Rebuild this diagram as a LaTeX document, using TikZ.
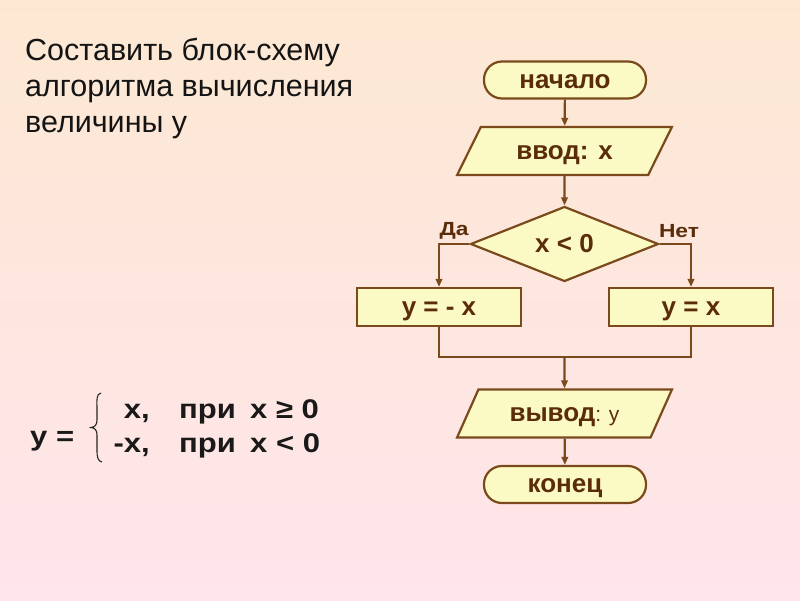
\documentclass[tikz,border=0pt]{standalone}
\usepackage{fontspec}
\usepackage{graphicx}
\setmainfont{Liberation Sans}
\usetikzlibrary{shapes.geometric,arrows.meta}
\definecolor{bgtop}{HTML}{FCE8D2}
\definecolor{bgbot}{HTML}{FFE5EC}
\definecolor{boxfill}{HTML}{FCFAC4}
\definecolor{edge}{HTML}{7A4A1C}
\definecolor{txt}{HTML}{5A2C0A}
\newcommand{\wide}[2]{\scalebox{#1}[1]{#2}}
\tikzset{
  fc/.style={draw=edge, line width=2.2pt, fill=boxfill, text=txt, font=\fontsize{26}{30}\selectfont\bfseries, inner sep=0pt, text height=16pt, text depth=0pt},
  term/.style={fc, rectangle, rounded corners=18pt, minimum width=162pt, minimum height=37pt},
  io/.style={fc, trapezium, trapezium stretches=true, trapezium left angle=49.5, trapezium right angle=130.5, minimum width=215pt, minimum height=48pt},
  proc/.style={fc, rectangle, minimum width=164pt, minimum height=38pt},
  dec/.style={fc, diamond, minimum width=188pt, minimum height=75pt},
  conn/.style={draw=edge, line width=2.2pt},
  arr/.style={conn, -{Triangle[length=8pt,width=6.5pt]}},
  lbl/.style={text=txt, font=\fontsize{19}{22}\selectfont\bfseries, inner sep=0pt},
  fml/.style={text=black!90, font=\fontsize{27}{30}\selectfont\bfseries, inner sep=0pt}
}
\begin{document}
\begin{tikzpicture}[x=1pt,y=-1pt]
\shade[top color=bgtop, bottom color=bgbot] (0,0) rectangle (800,600);
\useasboundingbox (0,0) rectangle (800,600);
% title
\node[anchor=base west, align=left, inner sep=0pt, text=black!92,
      font=\fontsize{30.5}{35.6}\selectfont] (title) at (25,132)
  {Составить блок-схему\\алгоритма вычисления\\величины y};
% flowchart
\node[term] (start) at (565,80) {начало};
\node[io] (in) at (564.5,151) {ввод: x};
\node[dec] (cond) at (564.5,244) {x < 0};
\node[proc] (left) at (439,307) {y = - x};
\node[proc] (right) at (691,307) {y = x};
\coordinate (join) at (564.5,357);
\node[io] (out) at (564.5,413.5) {вывод\textmd{\fontsize{21}{24}\selectfont: y}};
\node[term] (stop) at (565,484.5) {конец};
\node[lbl] (yes) at (454,231) {\wide{1.2}{Да}};
\node[lbl] (no) at (679,231) {\wide{1.2}{Нет}};
\draw[arr] (start) -- (in);
\draw[arr] (in) -- (cond);
\draw[arr] (cond.west) -| (left.north);
\draw[arr] (cond.east) -| (right.north);
\draw[conn] (left.south) |- (join) -| (right.south);
\draw[arr] (join) -- (out);
\draw[arr] (out) -- (stop);
% formula
\node[fml, anchor=base west] (yeq) at (30,445) {\wide{1.15}{y =}};
\node[fml, anchor=base east] (c1) at (150,418) {\wide{1.15}{x,}};
\node[fml, anchor=base east] (c2) at (150,452) {\wide{1.15}{-x,}};
\node[fml, anchor=base west] (p1) at (179,418) {\wide{1.15}{при}};
\node[fml, anchor=base west] (p2) at (179,452) {\wide{1.15}{при}};
\node[fml, anchor=base west] (r1) at (250,418) {\wide{1.15}{x ≥ 0}};
\node[fml, anchor=base west] (r2) at (250,452) {\wide{1.15}{x < 0}};
\draw[black!85, line width=1.1pt] (101,393) .. controls (96,394) and (97,400) .. (97,410)
  -- (97,420) .. controls (97,425) and (95,427) .. (91,427.5)
  .. controls (95,428) and (97,430) .. (97,435) -- (97,450)
  .. controls (97,458) and (98,461) .. (102,462);
\end{tikzpicture}
\end{document}
